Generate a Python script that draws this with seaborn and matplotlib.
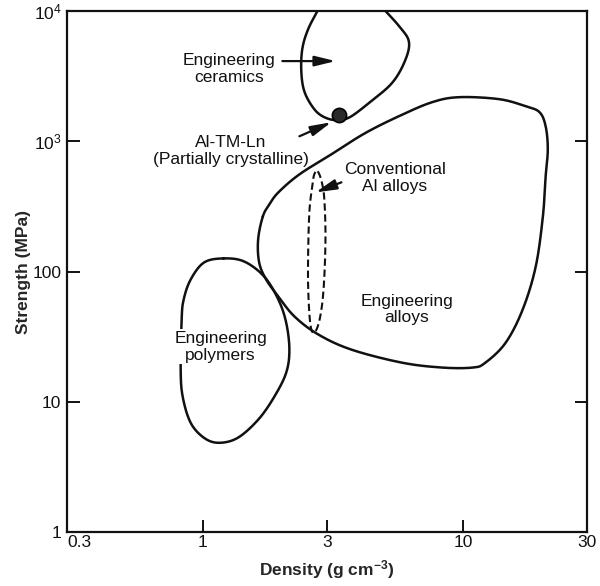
import numpy as np
import matplotlib
matplotlib.use("Agg")
import matplotlib.pyplot as plt
import seaborn as sns

# ---------------- data (density g/cm3, strength MPa) ----------------
ceramics_density = [2.81, 2.54, 2.41, 2.39, 2.46, 2.68, 2.93, 3.27, 3.67, 4.34, 5.33, 5.98, 6.20, 5.72, 4.87]
ceramics_strength = [10740, 7270, 5100, 3395, 2383, 1763, 1530, 1451, 1530, 1960, 2793, 4125, 5775, 7530, 10740]

alloys_density = [1.70, 1.80, 1.95, 2.35, 3.12, 4.19, 5.67, 7.61, 9.68, 13.8, 17.4, 19.7, 20.8, 21.2,
                  20.8, 20.3, 19.05, 16.97, 14.6, 12.2, 10.9, 8.32, 5.83, 3.73, 2.78, 2.25, 1.95,
                  1.75, 1.645, 1.63]
alloys_strength = [265, 327, 405, 557, 794, 1150, 1557, 1995, 2180, 2104, 1858, 1672, 1304, 867,
                   538, 265, 109, 51.0, 28.4, 19.95, 18.3, 18.3, 19.95, 25.1, 32.8, 45.1, 64.2,
                   86.8, 117.3, 176]

polymers_density = [1.20, 1.01, 0.897, 0.843, 0.828, 0.821, 0.836, 0.897, 1.01, 1.15, 1.36, 1.63,
                    1.88, 2.09, 2.15, 2.09, 1.95, 1.72, 1.44]
polymers_strength = [126, 117.3, 86.8, 60.9, 42.7, 17.6, 10.9, 6.89, 5.28, 4.84, 5.28, 7.27,
                     10.9, 16.7, 25.1, 40.5, 60.9, 91.5, 119.4]

al_alloys_density = [2.76, 2.86, 2.93, 2.96, 2.91, 2.81, 2.68, 2.59, 2.54, 2.54, 2.57, 2.64, 2.68]
al_alloys_strength = [588, 492, 358, 176, 72.7, 42.7, 33.9, 39.1, 72.7, 147.6, 300, 467, 557]

altmln_density = [3.35]
altmln_strength = [1585]

# arrows: (tail density, tail strength, head density, head strength)
arrow_tail_density = [2.02, 2.35, 3.41]
arrow_tail_strength = [4125, 1092, 484]
arrow_head_density = [3.24, 3.12, 2.71]
arrow_head_strength = [4125, 1400, 405]

label_texts = ["Engineering\nceramics", "Al-TM-Ln\n(Partially crystalline)",
               "Conventional\nAl alloys", "Engineering\nalloys", "Engineering\npolymers"]
label_density = [1.26, 1.28, 5.47, 6.09, 1.17]
label_strength = [3600, 840, 519, 51, 26.5]

x_ticks = [0.3, 1, 3, 10, 30]
x_ticklabels = ["0.3", "1", "3", "10", "30"]
y_ticks = [1, 10, 100, 1000, 10000]
y_ticklabels = ["1", "10", "100", r"10$^{3}$", r"10$^{4}$"]


def smooth(xs, ys, closed, n=24):
    P = np.column_stack([np.log10(xs), np.log10(ys)])
    if closed:
        P = np.vstack([P[-1], P, P[0], P[1]])
    else:
        P = np.vstack([2 * P[0] - P[1], P, 2 * P[-1] - P[-2]])
    out = []
    t = np.linspace(0, 1, n, endpoint=False)[:, None]
    for i in range(1, len(P) - 2):
        p0, p1, p2, p3 = P[i - 1], P[i], P[i + 1], P[i + 2]
        seg = 0.5 * ((2 * p1) + (-p0 + p2) * t + (2 * p0 - 5 * p1 + 4 * p2 - p3) * t ** 2
                     + (-p0 + 3 * p1 - 3 * p2 + p3) * t ** 3)
        out.append(seg)
    out.append(P[-2][None])
    S = np.vstack(out)
    return 10 ** S[:, 0], 10 ** S[:, 1]


sns.set_theme(style="white")
plt.rcParams["font.family"] = ["Liberation Sans", "DejaVu Sans"]
plt.rcParams["mathtext.fontset"] = "custom"
plt.rcParams["mathtext.rm"] = "Liberation Sans"
plt.rcParams["mathtext.bf"] = "Liberation Sans:bold"
plt.rcParams["mathtext.it"] = "Liberation Sans:italic"

fig = plt.figure(figsize=(6.0, 5.86), dpi=100)
ax = fig.add_axes([67 / 600, (586 - 532) / 586, (587 - 67) / 600, (532 - 11) / 586])
ax.set_xscale("log")
ax.set_yscale("log")
ax.set_xlim(0.3, 30)
ax.set_ylim(1, 10000)

lc = "#111111"
lw = 1.8
for dens, stren, closed in [(ceramics_density, ceramics_strength, False),
                            (alloys_density, alloys_strength, True),
                            (polymers_density, polymers_strength, True)]:
    sx, sy = smooth(dens, stren, closed)
    sns.lineplot(x=sx, y=sy, sort=False, estimator=None, color=lc, lw=lw, ax=ax)

sx, sy = smooth(al_alloys_density, al_alloys_strength, True)
sns.lineplot(x=sx, y=sy, sort=False, estimator=None, color=lc, lw=1.5, ax=ax)
ax.lines[-1].set_linestyle((0, (3.5, 1.8)))

sns.scatterplot(x=altmln_density, y=altmln_strength, s=105, marker="o", color="#2a2a2a",
                edgecolor="black", linewidth=1.2, ax=ax, zorder=4)

for tx, ty, hx, hy in zip(arrow_tail_density, arrow_tail_strength, arrow_head_density, arrow_head_strength):
    ax.annotate("", xy=(hx, hy), xytext=(tx, ty),
                arrowprops=dict(arrowstyle="-|>,head_length=0.9,head_width=0.22",
                                color=lc, lw=1.6, mutation_scale=14, shrinkA=0, shrinkB=0))

for i, (txt, x, y) in enumerate(zip(label_texts, label_density, label_strength)):
    kw = {}
    if i == 4:
        kw["bbox"] = dict(facecolor="white", edgecolor="none", pad=1.0)
    ax.text(x, y, txt, ha="center", va="center", fontsize=12.5, color="#111111",
            linespacing=1.15, zorder=5, **kw)

ax.set_xticks(x_ticks)
ax.set_xticklabels(x_ticklabels)
ax.set_yticks(y_ticks)
ax.set_yticklabels(y_ticklabels)
ax.minorticks_off()
ax.tick_params(axis="both", direction="in", length=9, width=1.4, labelsize=12.5,
               colors="#111111", pad=4)
ax.tick_params(axis="y", right=True, left=True)
ax.tick_params(axis="x", bottom=True, top=False, pad=2)
labs = ax.get_xticklabels()
labs[0].set_horizontalalignment("left")

for sp in ax.spines.values():
    sp.set_color("#111111")
    sp.set_linewidth(1.6)

ax.set_xlabel(r"Density (g cm$^{\mathbf{-3}}$)", fontsize=12.5, fontweight="bold", labelpad=6)
ax.set_ylabel("Strength (MPa)", fontsize=12.5, fontweight="bold", labelpad=1)

fig.savefig("out.png", dpi=100, facecolor="white")
